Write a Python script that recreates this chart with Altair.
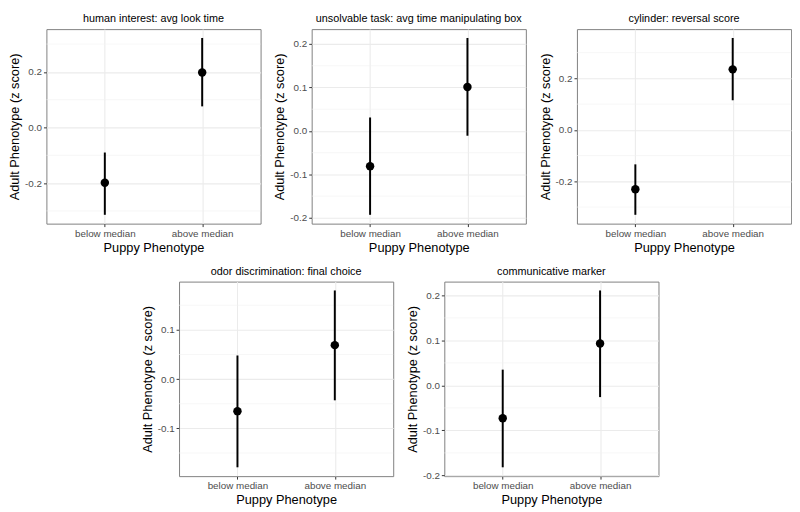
import altair as alt
import pandas as pd

titles = [
    "human interest: avg look time",
    "unsolvable task: avg time manipulating box",
    "cylinder: reversal score",
    "odor discrimination: final choice",
    "communicative marker",
]
groups = ["below median", "above median"]

below_mean = [-0.199, -0.081, -0.231, -0.065, -0.073]
below_lo = [-0.314, -0.193, -0.330, -0.179, -0.182]
below_hi = [-0.090, 0.031, -0.134, 0.048, 0.035]
above_mean = [0.198, 0.101, 0.235, 0.069, 0.093]
above_lo = [0.076, -0.011, 0.115, -0.043, -0.026]
above_hi = [0.322, 0.214, 0.357, 0.180, 0.211]

major_ticks = [
    [-0.2, 0.0, 0.2],
    [-0.2, -0.1, 0.0, 0.1, 0.2],
    [-0.2, 0.0, 0.2],
    [-0.1, 0.0, 0.1],
    [-0.2, -0.1, 0.0, 0.1, 0.2],
]
minor_ticks = [
    [-0.3, -0.1, 0.1, 0.3],
    [-0.15, -0.05, 0.05, 0.15],
    [-0.3, -0.1, 0.1, 0.3],
    [-0.15, -0.05, 0.05, 0.15],
    [-0.15, -0.05, 0.05, 0.15],
]

W, H = 218, 198
FONT = "Liberation Sans"


def panel(i):
    df = pd.DataFrame({
        "group": groups,
        "mean": [below_mean[i], above_mean[i]],
        "lo": [below_lo[i], above_lo[i]],
        "hi": [below_hi[i], above_hi[i]],
    })
    lo = min(df["lo"])
    hi = max(df["hi"])
    pad = (hi - lo) * 0.05
    yscale = alt.Scale(domain=[lo - pad, hi + pad], nice=False, zero=False)
    xscale = alt.Scale(type="point", padding=0.6, domain=groups)

    minor = pd.DataFrame({"v": minor_ticks[i]})
    minor = minor[(minor["v"] > lo - pad) & (minor["v"] < hi + pad)]

    xax = alt.X("group:N", scale=xscale, title="Puppy Phenotype",
                axis=alt.Axis(labelAngle=0, grid=True))
    yax = alt.Y("mean:Q", scale=yscale, title="Adult Phenotype (z score)",
                axis=alt.Axis(values=major_ticks[i], grid=True,
                              labelExpr="replace(format(datum.value, '.1f'), '\u2212', '-')"))

    grid_minor = alt.Chart(minor).mark_rule(color="#F2F2F2", strokeWidth=0.6).encode(
        y=alt.Y("v:Q", scale=yscale)
    )
    bars = alt.Chart(df).mark_rule(color="black", strokeWidth=2).encode(
        x=xax, y=alt.Y("lo:Q", scale=yscale, title="Adult Phenotype (z score)"), y2="hi:Q"
    )
    pts = alt.Chart(df).mark_circle(color="black", size=74, opacity=1).encode(
        x=xax, y=yax
    )
    return alt.layer(grid_minor, bars, pts).properties(
        width=W, height=H, title=titles[i]
    )


row1 = alt.hconcat(panel(0), panel(1), panel(2), spacing=12)
row2 = alt.hconcat(panel(3), panel(4), spacing=12)

chart = alt.vconcat(row1, row2, spacing=10, center=True).properties(
    padding={"left": 0, "top": 0, "right": 0, "bottom": 0}
).configure_view(
    stroke="#7F7F7F", strokeWidth=1
).configure_axis(
    domain=False,
    gridColor="#EBEBEB",
    gridWidth=1.1,
    tickColor="#333333",
    tickSize=3,
    labelColor="#4D4D4D",
    labelFont=FONT,
    labelFontSize=10,
    labelPadding=2,
    titleFont=FONT,
    titleFontSize=13,
    titleFontWeight="normal",
    titleColor="black",
    titlePadding=3,
).configure_title(
    font=FONT, fontSize=11, fontWeight="normal", color="black",
    anchor="middle", offset=5
).configure_concat(spacing=12)

chart.save("out.html", embed_options={"renderer": "svg", "actions": False})
